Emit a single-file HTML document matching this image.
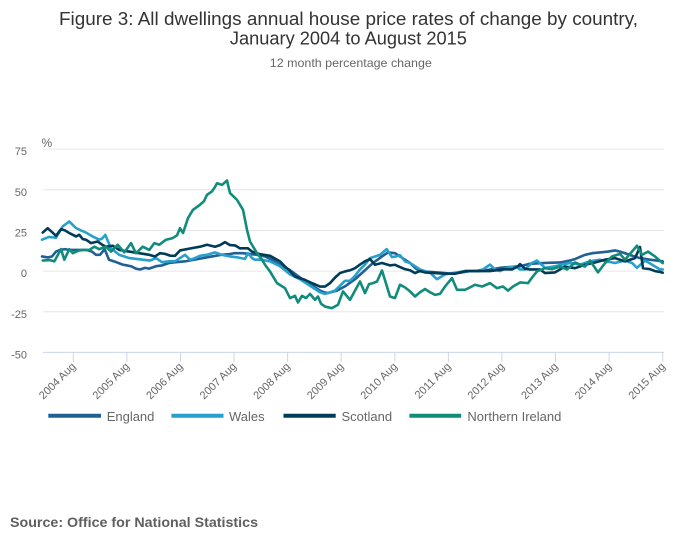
<!DOCTYPE html>
<html>
<head>
<meta charset="utf-8">
<style>
html,body{margin:0;padding:0;background:#fff;}
svg{display:block;}
text{font-family:"Liberation Sans",sans-serif;}
</style>
</head>
<body>
<svg width="700" height="549" viewBox="0 0 700 549" xmlns="http://www.w3.org/2000/svg">
<rect width="700" height="549" fill="#fff"/>
<!-- Title -->
<text x="348.5" y="25" font-size="18" fill="#333" text-anchor="middle" textLength="579" lengthAdjust="spacingAndGlyphs">Figure 3: All dwellings annual house price rates of change by country,</text>
<text x="348.4" y="44.5" font-size="18" fill="#333" text-anchor="middle" textLength="237" lengthAdjust="spacingAndGlyphs">January 2004 to August 2015</text>
<text x="350.8" y="67" font-size="12" fill="#666" text-anchor="middle" textLength="162" lengthAdjust="spacingAndGlyphs">12 month percentage change</text>

<!-- Gridlines -->
<g stroke="#e6e6e6" stroke-width="1">
<line x1="43" x2="664" y1="149.15" y2="149.15"/>
<line x1="43" x2="664" y1="189.8" y2="189.8"/>
<line x1="43" x2="664" y1="230.45" y2="230.45"/>
<line x1="43" x2="664" y1="271.1" y2="271.1"/>
<line x1="43" x2="664" y1="311.75" y2="311.75"/>
</g>
<!-- X axis -->
<line x1="43" x2="664" y1="352.4" y2="352.4" stroke="#ccd6eb" stroke-width="1"/>
<g stroke="#ccd6eb" stroke-width="1">
<line x1="73.3" x2="73.3" y1="352.4" y2="362"/>
<line x1="126.9" x2="126.9" y1="352.4" y2="362"/>
<line x1="180.5" x2="180.5" y1="352.4" y2="362"/>
<line x1="234.0" x2="234.0" y1="352.4" y2="362"/>
<line x1="287.6" x2="287.6" y1="352.4" y2="362"/>
<line x1="341.2" x2="341.2" y1="352.4" y2="362"/>
<line x1="394.8" x2="394.8" y1="352.4" y2="362"/>
<line x1="448.4" x2="448.4" y1="352.4" y2="362"/>
<line x1="501.9" x2="501.9" y1="352.4" y2="362"/>
<line x1="555.5" x2="555.5" y1="352.4" y2="362"/>
<line x1="609.1" x2="609.1" y1="352.4" y2="362"/>
<line x1="662.7" x2="662.7" y1="352.4" y2="362"/>
</g>

<!-- Y labels -->
<g font-size="11" fill="#666" text-anchor="end">
<text x="27" y="155.2">75</text>
<text x="27" y="195.8">50</text>
<text x="27" y="236.5">25</text>
<text x="27" y="277.1">0</text>
<text x="27" y="317.8">-25</text>
<text x="27" y="358.4">-50</text>
</g>
<text x="41.5" y="147" font-size="12" fill="#666">%</text>

<!-- X labels -->
<g font-size="11" fill="#666" text-anchor="end">
<text transform="translate(76.3,367) rotate(-45)">2004 Aug</text>
<text transform="translate(129.9,367) rotate(-45)">2005 Aug</text>
<text transform="translate(183.5,367) rotate(-45)">2006 Aug</text>
<text transform="translate(237.0,367) rotate(-45)">2007 Aug</text>
<text transform="translate(290.6,367) rotate(-45)">2008 Aug</text>
<text transform="translate(344.2,367) rotate(-45)">2009 Aug</text>
<text transform="translate(397.8,367) rotate(-45)">2010 Aug</text>
<text transform="translate(451.4,367) rotate(-45)">2011 Aug</text>
<text transform="translate(504.9,367) rotate(-45)">2012 Aug</text>
<text transform="translate(558.5,367) rotate(-45)">2013 Aug</text>
<text transform="translate(612.1,367) rotate(-45)">2014 Aug</text>
<text transform="translate(665.7,367) rotate(-45)">2015 Aug</text>
</g>

<!-- Series -->
<g transform="translate(0,271.1) scale(1,-1.626)" fill="none" stroke-width="2.6" stroke-linejoin="round" stroke-linecap="round">
<polyline vector-effect="non-scaling-stroke" stroke="#206095" points="42,9 47.7,8.4 52,9 56,12 60,13 65,13.5 69,13 78,13 87,13 92,12 96,10 100,10 104.6,13.5 109,7 114,6 122.7,4 131,3 136,1.5 140,1 145,2 149,1.5 156,3 162,3.5 169,5 176,5.5 185,6 194,7 203,8 212,9 221,10 230,10.5 234,11 243,11 250,10.5 257,10 265,9 272,7 280,4 289,1 300,-4 310,-8 320,-12 324,-13 328,-13.5 337,-12 346,-9 355,-5 364,0 373,5 382,9 388,11.5 395,11 400,9 405,7 410,5 415,2 420,0 430,-0.5 440,-1 450,-1.5 460,-1 470,0 480,0 490,1 500,2 510,2.5 520,3 530,4.5 545,5 560,5.3 570,6.5 575,7.4 585,10 592,11 600,11.5 608,12 615,12.7 620,12 625,11 632,9.5 640,8 650,7 662.7,6"/>
<polyline vector-effect="non-scaling-stroke" stroke="#27a0cc" points="42,19.3 49,21 56,20.5 62.7,27.5 69.3,30.5 76,26.5 81,25 86,23.7 92.7,21.3 99.3,19.3 102,20 105.3,22.3 111,14 119.3,10 129.3,8 142.7,7 150,6.5 156,8 162,5.5 169,6 175,6 180,8 185,10 190,7 195,8 200,9.4 207,10 215,11.5 222,10 230,9 237,8.5 241,8 245,7.5 248,11 252,8 255,7 262,7 270,6 280,3 290,-2 300,-5 310,-9 320,-13 325,-14 330,-13 335,-12 340,-9 345,-6 350,-6 355,-3 360,1 365,4 370,8 375,9 380,10 386.7,13.5 392,8.6 396,9 400,9.8 405,6 410,5 415,3 420,1 425,0 430,-1 437,-5 445,-2 455,-1 465,0 475,0 483,1 490,4 495,1 500,0 507,2 515,3 520,1 525,1 532,5 537,6.5 545,2 555,3 562,4 570,5 580,4 590,6 600,7 607,6 615,5 625,6.5 632,5 637,2 645,6.5 652,4 660,1 662.7,1"/>
<polyline vector-effect="non-scaling-stroke" stroke="#003c57" points="42.7,23.7 47.7,26.4 52,24 56,21.7 61,25.8 65,25 69.3,23.4 76,21.3 79.3,22.3 82.7,19.7 86,19.3 91,17.2 97.7,18.2 102.7,16 106,15 112.7,15.6 119.3,13 124,12.5 129.3,12 139.3,11 149.3,10 155,9 160,11 165,10.6 170,9.5 175,9.4 180,12.7 190,13.9 200,15 207,16.2 215,15 220,16 225,17.8 230,16 235,15.8 240,14 248,14 252,12 260,10.4 270,9.4 280,6 285,2.8 290,0 295,-3.3 305,-5.4 312,-7.4 320,-9.5 325,-9.5 330,-7.4 335,-4 340,-1.2 345,-0.2 350,0.5 355,1.8 360,4 365,6 370,7.4 375,3.9 382,5 390,3.5 395,3.9 400,2.5 405,1.2 410,0.5 415,-1.2 420,0 425,-0.8 435,-1.2 445,-1.6 455,-1.6 465,0 475,0 490,0 505,1.2 512,1 518,3 520,4.3 525,1.5 530,1 540,1 545,-1.2 555,-0.8 565,2.8 575,1.8 585,3.9 595,5.3 605,7 615,8 625,6 635,8 638,12 640,14.8 643,1.8 650,1.2 655,0 660,-0.5 662.7,-1"/>
<polyline vector-effect="non-scaling-stroke" stroke="#118c7b" points="42.7,6.5 49.3,6.8 54.3,6 57,9 61,13.5 64.3,7 69.3,13.5 72.7,11 79.3,12.7 84,13 89.3,13 94.3,15 99.3,13.5 106,15 111,12 117.7,16.2 124.3,11.5 131,17.2 136,11 142.7,15 149.3,13 154.3,17.2 159.3,16.2 166,19.3 172.7,20.3 177,22 180,26.4 183,23.4 188,32.6 193,37.7 200,40.8 204,43 207,46.9 212,49 215,51.7 217,54 222,53 227,55.7 230,48 237,43.8 243,37.7 247,25.4 250,18.2 257,11 262,7 265,3.9 270,-0.2 277,-7.4 285,-10.5 290,-16.6 295,-15.2 298,-19.3 302,-15.2 306,-16.6 310,-14 315,-17.7 318,-15.6 321,-20 325,-21.8 332,-22.8 338,-20.7 343,-12.5 350,-17.7 355,-12 360,-6.4 365,-13.5 369,-8 373,-7.4 377,-6.4 382,0.4 390,-15.6 395,-16.6 400,-8.4 405,-10 410,-12.5 415,-15.6 420,-13 425,-11 430,-13 435,-14.6 440,-14 445,-9.5 452,-4.3 457,-11.5 465,-11.5 470,-10 475,-8.4 482,-9.5 490,-7.4 497,-10.5 503,-9.5 508,-12 513,-9.5 520,-7 528,-7.4 532,-4 537,-0.2 545,1.8 552,1.2 560,2.8 567,1 575,5.3 580,4 585,2.8 590,6.5 595,2 598,-0.8 605,4.9 612,9 620,10.6 625,7 630,10.6 637,15.6 642,10 648,12 655,9 662.7,4.9"/>
</g>

<!-- Legend -->
<g stroke-width="4">
<line x1="48.3" x2="101" y1="415.7" y2="415.7" stroke="#206095"/>
<line x1="171.4" x2="223.5" y1="415.7" y2="415.7" stroke="#27a0cc"/>
<line x1="283.5" x2="335.7" y1="415.7" y2="415.7" stroke="#003c57"/>
<line x1="409.4" x2="461.2" y1="415.7" y2="415.7" stroke="#118c7b"/>
</g>
<g font-size="13" fill="#666">
<text x="106.7" y="421">England</text>
<text x="229" y="421">Wales</text>
<text x="341.5" y="421">Scotland</text>
<text x="467.4" y="421">Northern Ireland</text>
</g>

<!-- Source -->
<text x="10" y="527" font-size="14" font-weight="bold" fill="#5f5f5f" textLength="248" lengthAdjust="spacingAndGlyphs">Source: Office for National Statistics</text>
</svg>
</body>
</html>
